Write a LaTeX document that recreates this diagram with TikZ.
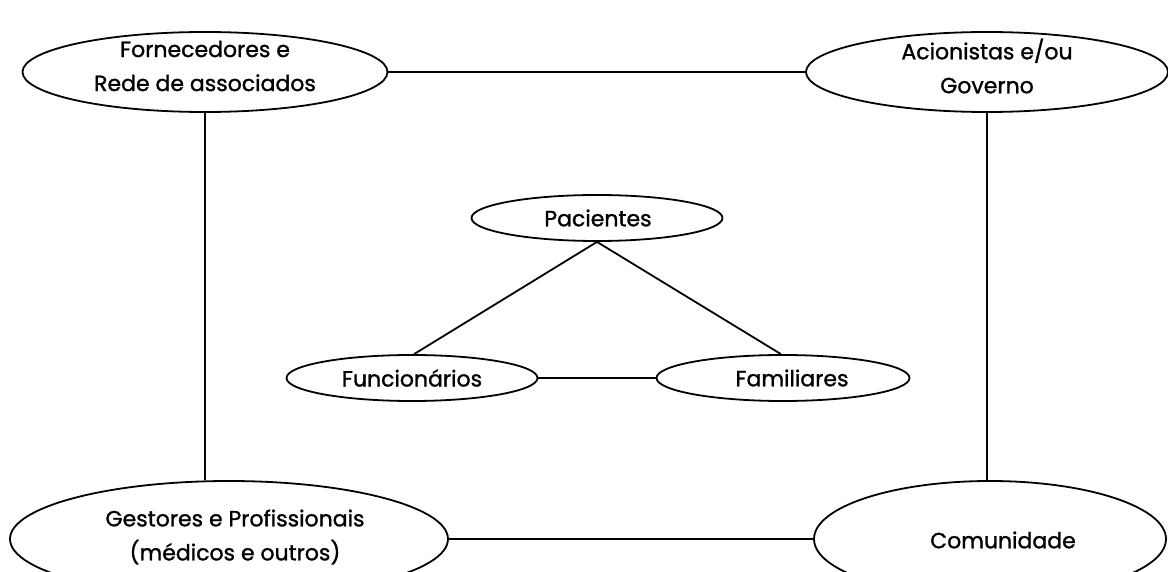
\documentclass[tikz,border=0pt]{standalone}
\usepackage{fontspec}
\setmainfont{Poppins}[FakeBold=1.2]
\usetikzlibrary{shapes.geometric}
\begin{document}
\begin{tikzpicture}[x=.5pt,y=-.5pt,
  actor/.style={draw, ellipse, line width=.9pt, inner sep=0pt},
  words/.style={align=center, inner sep=0pt, font=\fontsize{11}{17}\selectfont},
  link/.style={line width=.9pt}]
\def\h{23pt}

\clip (0,0) rectangle (1168,572);

%%%%%%%%%%%%%-------------outer ring
\node[actor, minimum width=182.5pt, minimum height=40pt] (forn) at (205,72) {};
\node[words] (forntext) at (205,66) {Fornecedores e\\Rede de associados};
\node[actor, minimum width=181pt, minimum height=40pt] (acion) at (987,72) {};
\node[words] (aciontext) at (987,66) {Acionistas e/ou\\Governo};
\node[actor, minimum width=219pt, minimum height=58pt] (gest) at (229,539) {};
\node[words] (gesttext) at (235,537) {Gestores e Profissionais\\(médicos e outros)};
\node[actor, minimum width=176pt, minimum height=58pt] (comun) at (990,539) {};
\node[words] (comuntext) at (1003,540) {Comunidade};

%%%%%%%%%%%%%-------------inner triangle
\node[actor, minimum width=125.5pt, minimum height=\h] (pac) at (597,218) {};
\node[words] (pactext) at (598,218) {Pacientes};
\node[actor, minimum width=125.5pt, minimum height=\h] (func) at (412,378) {};
\node[words] (functext) at (412,378) {Funcionários};
\node[actor, minimum width=126.5pt, minimum height=\h] (fam) at (783,378) {};
\node[words] (famtext) at (792,378) {Familiares};

\draw[link] (forn.east) -- (acion.west);
\draw[link] (forn.south) -- (forn.south |- gest.north);
\draw[link] (acion.south) -- (acion.south |- comun.north);
\draw[link] (gest.east) -- (comun.west);

\draw[link] (pac.south) -- (func.85);
\draw[link] (pac.south) -- (fam.95);
\draw[link] (func.east) -- (fam.west);

\end{tikzpicture}
\end{document}
